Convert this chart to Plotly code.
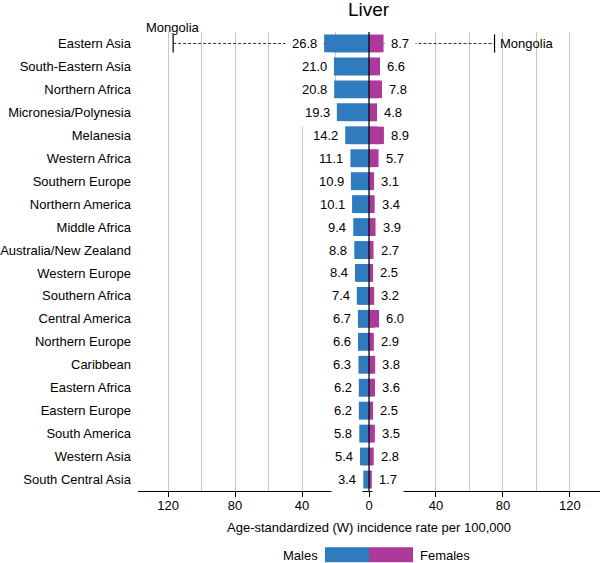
import plotly.graph_objects as go

regions = ["Eastern Asia", "South-Eastern Asia", "Northern Africa", "Micronesia/Polynesia",
           "Melanesia", "Western Africa", "Southern Europe", "Northern America", "Middle Africa",
           "Australia/New Zealand", "Western Europe", "Southern Africa", "Central America",
           "Northern Europe", "Caribbean", "Eastern Africa", "Eastern Europe", "South America",
           "Western Asia", "South Central Asia"]
males = [26.8, 21.0, 20.8, 19.3, 14.2, 11.1, 10.9, 10.1, 9.4, 8.8, 8.4, 7.4, 6.7, 6.6, 6.3,
         6.2, 6.2, 5.8, 5.4, 3.4]
females = [8.7, 6.6, 7.8, 4.8, 8.9, 5.7, 3.1, 3.4, 3.9, 2.7, 2.5, 3.2, 6.0, 2.9, 3.8,
           3.6, 2.5, 3.5, 2.8, 1.7]
max_region = "Eastern Asia"
max_country = "Mongolia"
max_male = 117.0
max_female = 75.0
tick_vals = [-120, -80, -40, 0, 40, 80, 120]
tick_text = ["120", "80", "40", "0", "40", "80", "120"]
minor_vals = [-100, -60, -20, 20, 60, 100]
legend_len = 26.3

BLUE = "#2e7bbd"
PINK = "#ad3a9a"
FONT = "Liberation Sans, Arial, sans-serif"

fig = go.Figure()
fig.add_trace(go.Bar(y=regions, x=[-v for v in males], orientation="h", width=0.78,
                     marker=dict(color=BLUE, line=dict(width=0)), name="Males", showlegend=False))
fig.add_trace(go.Bar(y=regions, x=females, orientation="h", width=0.78,
                     marker=dict(color=PINK, line=dict(width=0)), name="Females", showlegend=False))

# Mongolia dashed lines
mi = regions.index(max_region)
fig.add_trace(go.Scatter(x=[-max_male, -males[mi]], y=[max_region, max_region], mode="lines",
                         line=dict(color="#333333", width=1, dash="3px,2px"), showlegend=False,
                         hoverinfo="skip"))
fig.add_trace(go.Scatter(x=[females[mi], max_female], y=[max_region, max_region], mode="lines",
                         line=dict(color="#333333", width=1, dash="3px,2px"), showlegend=False,
                         hoverinfo="skip"))
fig.add_trace(go.Scatter(x=[-max_male, max_female], y=[max_region, max_region], mode="markers",
                         marker=dict(symbol="line-ns", size=13, line=dict(color="black", width=1.2)),
                         showlegend=False, hoverinfo="skip"))

annotations = []
for r, m, f in zip(regions, males, females):
    annotations.append(dict(x=-m, y=r, text=f"{m:.1f}", xanchor="right", yanchor="middle",
                            showarrow=False, bgcolor="white", borderpad=6,
                            font=dict(size=13, color="black", family=FONT)))
    annotations.append(dict(x=f, y=r, text=f"{f:.1f}", xanchor="left", yanchor="middle",
                            showarrow=False, bgcolor="white", borderpad=6,
                            font=dict(size=13, color="black", family=FONT)))

annotations.append(dict(x=-max_male, y=max_region, text=max_country, xanchor="center",
                        yanchor="middle", yshift=16, showarrow=False,
                        font=dict(size=13, color="black", family=FONT)))
annotations.append(dict(x=max_female, y=max_region, text=max_country, xanchor="left",
                        yanchor="middle", xshift=3, showarrow=False,
                        font=dict(size=13, color="black", family=FONT)))

# title
annotations.append(dict(x=0.5, y=1.049, xref="paper", yref="paper", text="Liver",
                        xanchor="center", yanchor="middle", showarrow=False,
                        font=dict(size=19, color="black", family=FONT)))

# legend text
annotations.append(dict(x=-legend_len, y=-0.1395, xref="x", yref="paper", text="Males",
                        xanchor="right", yanchor="middle", xshift=-5, showarrow=False,
                        font=dict(size=13, color="black", family=FONT)))
annotations.append(dict(x=legend_len, y=-0.1395, xref="x", yref="paper", text="Females",
                        xanchor="left", yanchor="middle", xshift=5, showarrow=False,
                        font=dict(size=13, color="black", family=FONT)))

shapes = [
    dict(type="line", xref="x", yref="paper", x0=0, x1=0, y0=0, y1=1,
         line=dict(color="black", width=1.2), layer="above"),
    dict(type="rect", xref="x", yref="paper", x0=-legend_len, x1=0, y0=-0.1555, y1=-0.1225,
         fillcolor=BLUE, line=dict(width=0)),
    dict(type="rect", xref="x", yref="paper", x0=0, x1=legend_len, y0=-0.1555, y1=-0.1225,
         fillcolor=PINK, line=dict(width=0)),
]

fig.update_layout(
    width=600, height=563,
    margin=dict(l=138, r=0, t=32, b=72, autoexpand=False),
    paper_bgcolor="white", plot_bgcolor="white",
    barmode="overlay",
    font=dict(family=FONT, size=13, color="black"),
    annotations=annotations,
    shapes=shapes,
    xaxis=dict(range=[-138, 138], tickvals=tick_vals, ticktext=tick_text,
               showgrid=True, gridcolor="#c8c8c8", gridwidth=1, zeroline=False,
               showline=True, linecolor="black", linewidth=1,
               ticks="outside", ticklen=5, tickcolor="black",
               tickfont=dict(size=13, color="black"), ticklabelstandoff=-3,
               minor=dict(tickvals=minor_vals, showgrid=True, gridcolor="#c8c8c8",
                          gridwidth=1, ticks=""),
               title=dict(text="Age-standardized (W) incidence rate per 100,000",
                          font=dict(size=13, color="black"), standoff=11),
               automargin=False, fixedrange=True),
    yaxis=dict(categoryorder="array", categoryarray=regions,
               showgrid=False, zeroline=False, showline=False, ticks="",
               ticklabelstandoff=6, tickfont=dict(size=13, color="black"),
               range=[len(regions) - 0.5, -0.5], automargin=False),
)

fig.write_html("out.html", config={"displayModeBar": False},
               post_script="document.body.style.margin='0px';document.body.style.overflow='hidden';")
